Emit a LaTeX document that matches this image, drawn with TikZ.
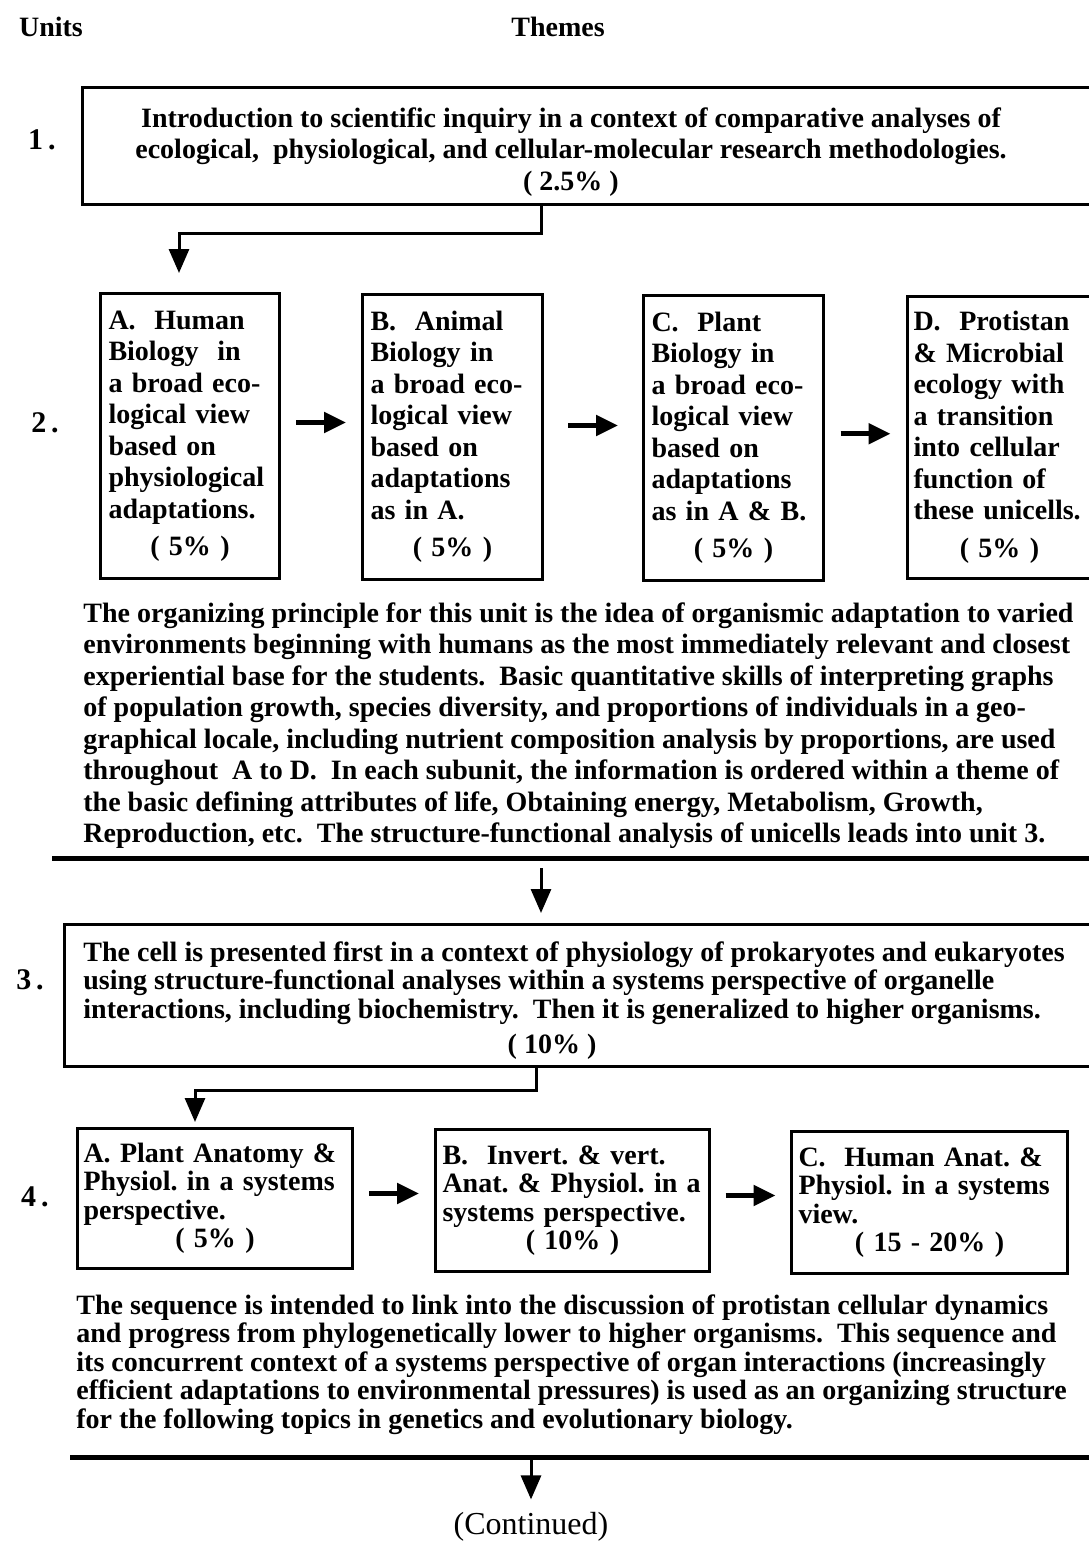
\documentclass[tikz,border=0pt]{standalone}
\usepackage{fontspec}
\setmainfont{Liberation Serif}
\usetikzlibrary{arrows.meta,calc}

\newcommand{\topfont}{\frenchspacing\bfseries\fontsize{14}{15.75}\selectfont}
\newcommand{\lowfont}{\frenchspacing\bfseries\fontsize{14}{14.25}\selectfont}

\tikzset{
  unitframe/.style={draw, line width=1.5pt, anchor=north west, inner sep=0pt},
  subbox/.style={draw, line width=1.5pt, anchor=north west, align=left, inner ysep=0pt},
  prose/.style={anchor=north west, align=left, inner sep=0pt},
  unitnum/.style={font=\bfseries\fontsize{15}{15}\selectfont, inner sep=0pt},
  downlink/.style={line width=1.5pt, -{Triangle[length=12pt,width=10pt]}},
  sidelink/.style={line width=2.5pt, -{Triangle[length=11pt,width=10pt]}},
  sepline/.style={line width=2.5pt},
}

\begin{document}
\begin{tikzpicture}[x=0.5pt,y=-0.5pt]
  \useasboundingbox (0,0) rectangle (1088,1543);
  % column headings
  \node[font=\topfont, anchor=west] (units) at (12,27) {Units};
  \node[font=\topfont] (themes) at (558,27) {Themes};

  % unit 1
  \node[unitnum] (numone) at (42,140) {1\,.};
  \node[unitframe, minimum width=509.5pt, minimum height=58.5pt] (unitone) at (81,86) {};
  \node[font=\topfont, align=center] (unitonetext) at (571,152)
    {Introduction to scientific inquiry in a context of comparative analyses of\\
     ecological,\ \ physiological, and cellular-molecular research methodologies.\\
     ( 2.5\% )};

  % unit 2, four subunits
  \node[unitnum] (numtwo) at (45,423) {2\,.};
  \node[subbox, font=\topfont, inner xsep=4pt, text width=81.5pt, minimum height=142.5pt] (twoA) at (99,292)
    {A.\ \ Human\\Biology\ \ in\\a broad eco-\\logical view\\based on\\physiological\\adaptations.\\[3pt]
     \makebox[\hsize]{( 5\% )}};
  \node[subbox, font=\topfont, inner xsep=4pt, text width=82pt, minimum height=142.5pt] (twoB) at (361,293)
    {B.\ \ Animal\\Biology in\\a broad eco-\\logical view\\based on\\adaptations\\as in A.\\[3pt]
     \makebox[\hsize]{( 5\% )}};
  \node[subbox, font=\topfont, inner xsep=4pt, text width=82pt, minimum height=142.5pt] (twoC) at (642,294)
    {C.\ \ Plant\\Biology in\\a broad eco-\\logical view\\based on\\adaptations\\as in A \& B.\\[3pt]
     \makebox[\hsize]{( 5\% )}};
  \node[subbox, font=\topfont, inner xsep=3pt, text width=91pt, minimum height=141pt] (twoD) at (906,295)
    {D.\ \ Protistan\\\& Microbial\\ecology with\\a transition\\into cellular\\function of\\these unicells.\\[3pt]
     \makebox[86pt]{( 5\% )}};
  \foreach \a/\b/\dy in {twoA/twoB/-14, twoB/twoC/-12, twoC/twoD/-4}
    \draw[sidelink] ($(\a.east)!.5!(\b.west)+(-25,\dy)$) -- +(50,0);

  \node[prose, font=\topfont] (noteone) at (83,602)
    {The organizing principle for this unit is the idea of organismic adaptation to varied\\
     environments beginning with humans as the most immediately relevant and closest\\
     experiential base for the students.\ \ Basic quantitative skills of interpreting graphs\\
     of population growth, species diversity, and proportions of individuals in a geo-\\
     graphical locale, including nutrient composition analysis by proportions, are used\\
     throughout\ \ A to D.\ \ In each subunit, the information is ordered within a theme of\\
     the basic defining attributes of life, Obtaining energy, Metabolism, Growth,\\
     Reproduction, etc.\ \ The structure-functional analysis of unicells leads into unit 3.};

  \draw[sepline] (52,858) -- (1090,858);
  \coordinate (ruleone) at (541,858);

  % unit 3
  \node[unitnum] (numthree) at (30,980) {3\,.};
  \node[unitframe, minimum width=518.5pt, minimum height=71pt] (unitthree) at (63,923) {};
  \node[prose, font=\lowfont] (unitthreetext) at (83,941)
    {The cell is presented first in a context of physiology of prokaryotes and eukaryotes\\
     using structure-functional analyses within a systems perspective of organelle\\
     interactions, including biochemistry.\ \ Then it is generalized to higher organisms.};
  \node[font=\lowfont] (unitthreepct) at (552,1047) {( 10\% )};
  \draw[downlink, shorten <=5pt, shorten >=5pt] (ruleone) -- (ruleone |- unitthree.north);

  % unit 4, three subunits
  \node[unitnum] (numfour) at (35,1197) {4\,.};
  \node[subbox, font=\lowfont, inner xsep=3pt, text width=131.5pt, minimum height=70pt] (fourA) at (76,1127)
    {A.\ Plant Anatomy \&\\Physiol. in a systems\\perspective.\\\makebox[\hsize]{( 5\% )}};
  \node[subbox, font=\lowfont, inner xsep=3.5pt, text width=130pt, minimum height=71pt] (fourB) at (434,1128)
    {B.\ \ Invert. \& vert.\\Anat. \& Physiol. in a\\systems perspective.\\\makebox[\hsize]{( 10\% )}};
  \node[subbox, font=\lowfont, inner xsep=3.5pt, text width=131pt, minimum height=71pt] (fourC) at (790,1130)
    {C.\ \ Human Anat. \&\\Physiol. in a systems\\view.\\\makebox[\hsize]{( 15 - 20\% )}};
  \foreach \a/\b in {fourA/fourB, fourB/fourC}
    \draw[sidelink] ($(\a.east)!.5!(\b.west)+(-25,-6)$) -- +(50,0);

  % links into the subunits
  \coordinate (bendone) at (541,233);
  \draw[downlink, shorten >=9.5pt] (bendone |- unitone.south) -- (bendone) -| ([xshift=-5.5pt]twoA.north);
  \coordinate (bendtwo) at (536,1090);
  \draw[downlink, shorten >=2.5pt] (bendtwo |- unitthree.south) -- (bendtwo) -| ([xshift=-10pt]fourA.north);

  \node[prose, font=\lowfont] (notetwo) at (76,1294)
    {The sequence is intended to link into the discussion of protistan cellular dynamics\\
     and progress from phylogenetically lower to higher organisms.\ \ This sequence and\\
     its concurrent context of a systems perspective of organ interactions (increasingly\\
     efficient adaptations to environmental pressures) is used as an organizing structure\\
     for the following topics in genetics and evolutionary biology.};

  \draw[sepline] (70,1457) -- (1090,1457);
  \coordinate (ruletwo) at (531,1457);
  \node[font=\fontsize{16}{16}\selectfont] (continued) at (531,1527) {(Continued)};
  \draw[downlink, shorten >=3pt] (ruletwo) -- (ruletwo |- continued.north);
\end{tikzpicture}
\end{document}
